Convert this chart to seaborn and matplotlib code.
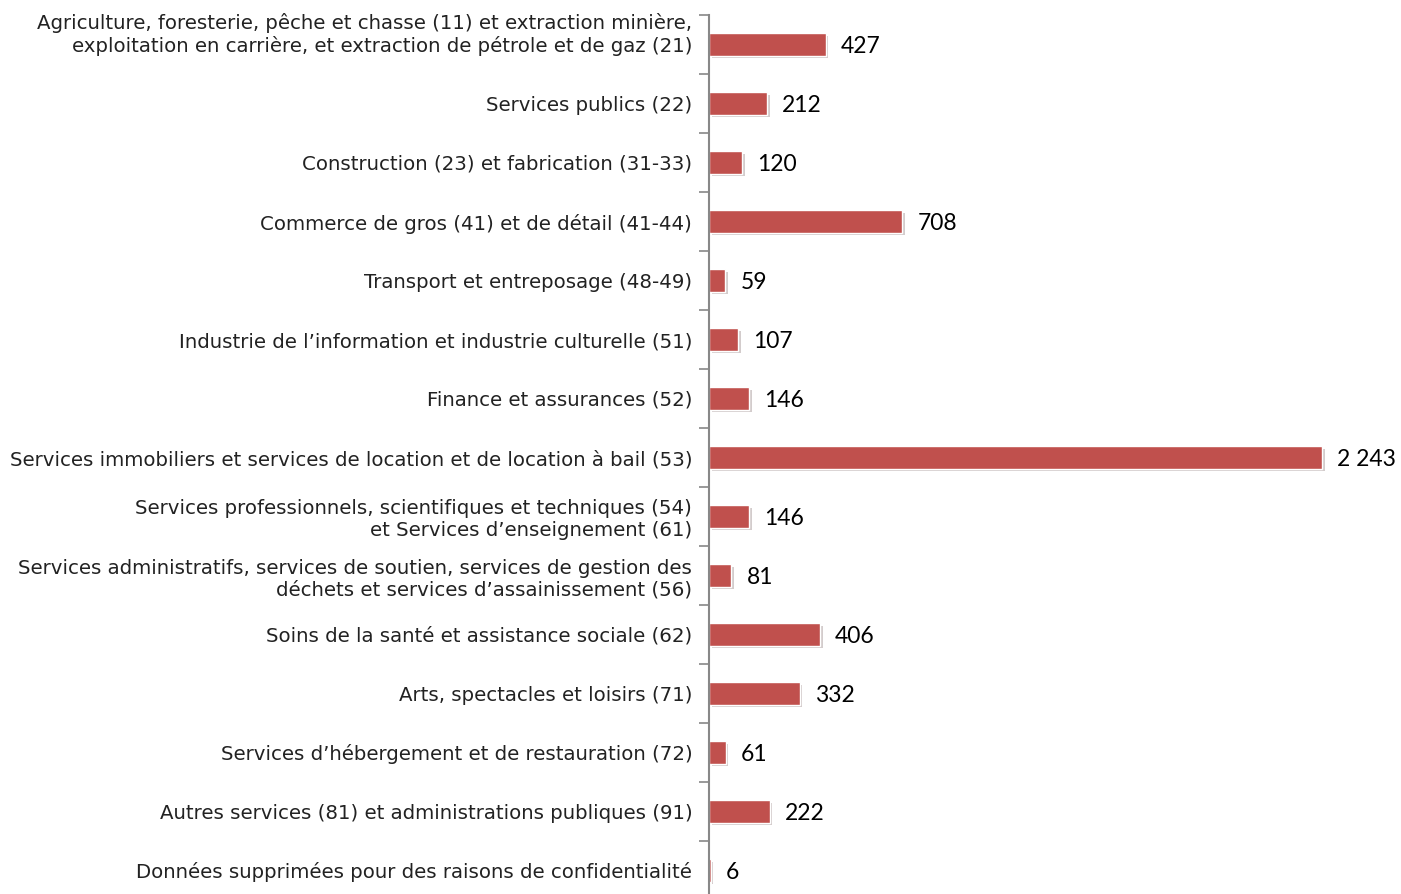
import matplotlib.pyplot as plt
import matplotlib.patheffects as pe
import matplotlib.transforms as mtransforms
import seaborn as sns

categories = [
    "Agriculture, foresterie, pêche et chasse (11) et extraction minière,\nexploitation en carrière, et extraction de pétrole et de gaz (21)",
    "Services publics (22)",
    "Construction (23) et fabrication (31-33)",
    "Commerce de gros (41) et de détail (41-44)",
    "Transport et entreposage (48-49)",
    "Industrie de l\u2019information et industrie culturelle (51)",
    "Finance et assurances (52)",
    "Services immobiliers et services de location et de location à bail (53)",
    "Services professionnels, scientifiques et techniques (54)\net Services d\u2019enseignement (61)",
    "Services administratifs, services de soutien, services de gestion des\ndéchets et services d\u2019assainissement (56)",
    "Soins de la santé et assistance sociale (62)",
    "Arts, spectacles et loisirs (71)",
    "Services d\u2019hébergement et de restauration (72)",
    "Autres services (81) et administrations publiques (91)",
    "Données supprimées pour des raisons de confidentialité",
]
values = [427, 212, 120, 708, 59, 107, 146, 2243, 146, 81, 406, 332, 61, 222, 6]
value_labels = ["427", "212", "120", "708", "59", "107", "146", "2 243",
                "146", "81", "406", "332", "61", "222", "6"]

sns.set_style("white")
plt.rcParams['font.family'] = ['DejaVu Sans']

W, H = 1401, 894
fig = plt.figure(figsize=(W / 100, H / 100), dpi=100)
ax = fig.add_axes([709 / W, (H - 900) / H, 683 / W, 885 / H])

sns.barplot(x=values, y=categories, color="#C0504D", width=0.38, ax=ax,
            saturation=1, orient="h")
for bar in ax.patches:
    bar.set_path_effects([pe.SimplePatchShadow(offset=(2, -2), alpha=0.22), pe.Normal()])

ax.set_xlim(0, 2500)
ax.set_ylim(len(categories) - 0.5, -0.5)

for i, (v, lab) in enumerate(zip(values, value_labels)):
    ax.annotate(lab, (v, i), xytext=(11, -1.5), textcoords="offset points",
                va="center", ha="left", fontsize=16.5, family=["Lato", "DejaVu Sans"],
                color="black")

ax.set_xticks([])
ax.set_yticks(range(len(categories)))
ax.set_yticklabels([""] + categories[1:], fontsize=14.2, color="#222222", linespacing=1.2)
ax.tick_params(axis="y", which="major", length=0, pad=12)
# first label sits a little higher than its bar in the original
lab_trans = ax.get_yaxis_transform() + mtransforms.ScaledTranslation(-12 / 72, 7 / 72, fig.dpi_scale_trans)
ax.text(0, 0, categories[0], transform=lab_trans, ha="right", va="center",
        fontsize=14.2, color="#222222", linespacing=1.2)
ax.set_yticks([i - 0.5 for i in range(len(categories) + 1)], minor=True)
ax.tick_params(axis="y", which="minor", length=7, width=1.2, color="#888888", left=True)
for s in ["top", "right", "bottom"]:
    ax.spines[s].set_visible(False)
ax.spines["left"].set_color("#888888")
ax.spines["left"].set_linewidth(1.5)
ax.set_xlabel("")
ax.set_ylabel("")

fig.savefig("out.png", dpi=100)
